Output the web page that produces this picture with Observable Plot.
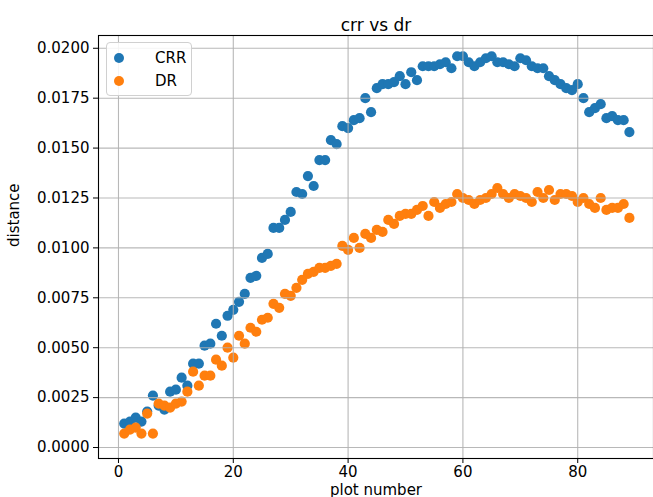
<!DOCTYPE html>
<html>
<head>
<meta charset="utf-8">
<script src="https://cdn.jsdelivr.net/npm/d3@7"></script>
<script src="https://cdn.jsdelivr.net/npm/@observablehq/plot@0.6"></script>
<style>
  html, body { margin: 0; padding: 0; background: white; }
  #wrap { position: relative; width: 653px; height: 497px; overflow: hidden; font-family: "DejaVu Sans", sans-serif; }
  #legend { position: absolute; left: 106px; top: 42px; width: 86px; height: 54px; box-sizing: border-box;
    border: 1px solid #d0d0d0; border-radius: 4px; background: rgba(255,255,255,0.85); }
  .row { position: absolute; left: 0; height: 20px; display: flex; align-items: center; font-size: 15px; color: #000; }
  .sw { position: absolute; left: 7px; width: 10px; height: 10px; border-radius: 50%; }
  .lb { position: absolute; left: 48px; white-space: nowrap; }
</style>
</head>
<body>
<div id="wrap">
  <div id="chart"></div>
  <div id="legend">
    <div class="row" style="top:5px"><span class="sw" style="background:#1f77b4"></span><span class="lb">CRR</span></div>
    <div class="row" style="top:28px"><span class="sw" style="background:#ff7f0e"></span><span class="lb">DR</span></div>
  </div>
</div>
<script>
const plotNumbers = [1,2,3,4,5,6,7,8,9,10,11,12,13,14,15,16,17,18,19,20,21,22,23,24,25,26,27,28,29,30,
  31,32,33,34,35,36,37,38,39,40,41,42,43,44,45,46,47,48,49,50,51,52,53,54,55,56,57,58,59,60,
  61,62,63,64,65,66,67,68,69,70,71,72,73,74,75,76,77,78,79,80,81,82,83,84,85,86,87,88,89];

const crr = [0.0012,0.0013,0.0015,0.0013,0.0018,0.0026,0.0021,0.0019,0.0028,0.0029,
  0.0035,0.0031,0.0042,0.0042,0.0051,0.0052,0.0062,0.0056,0.0066,0.0069,
  0.0073,0.0077,0.0085,0.0086,0.0095,0.0097,0.0110,0.0110,0.0114,0.0118,
  0.0128,0.0127,0.0136,0.0131,0.0144,0.0144,0.0154,0.0152,0.0161,0.0160,
  0.0164,0.0165,0.0175,0.0168,0.0180,0.0182,0.0182,0.0183,0.0186,0.0182,
  0.0188,0.0184,0.0191,0.0191,0.0191,0.0192,0.0193,0.0190,0.0196,0.0196,
  0.0193,0.0191,0.0193,0.0195,0.0196,0.0193,0.0193,0.0192,0.0191,0.0195,
  0.0194,0.0191,0.0190,0.0190,0.0186,0.0184,0.0182,0.0180,0.0179,0.0182,
  0.0175,0.0168,0.0170,0.0172,0.0165,0.0166,0.0164,0.0164,0.0158];

const dr = [0.0007,0.0009,0.0010,0.0007,0.0017,0.0007,0.0022,0.0021,0.0020,0.0022,
  0.0023,0.0028,0.0038,0.0031,0.0036,0.0036,0.0044,0.0041,0.0050,0.0045,
  0.0056,0.0052,0.0060,0.0058,0.0064,0.0065,0.0072,0.0070,0.0077,0.0076,
  0.0080,0.0084,0.0087,0.0088,0.0090,0.0090,0.0091,0.0092,0.0101,0.0099,
  0.0105,0.0100,0.0107,0.0105,0.0109,0.0108,0.0114,0.0112,0.0116,0.0117,
  0.0117,0.0119,0.0121,0.0116,0.0123,0.0120,0.0122,0.0123,0.0127,0.0125,
  0.0124,0.0122,0.0124,0.0125,0.0127,0.0130,0.0127,0.0125,0.0127,0.0126,
  0.0125,0.0123,0.0128,0.0125,0.0129,0.0124,0.0127,0.0127,0.0126,0.0123,
  0.0125,0.0122,0.0120,0.0125,0.0119,0.0120,0.0120,0.0122,0.0115];

const xTicks = [0, 20, 40, 60, 80];
const yTicks = [0, 0.0025, 0.005, 0.0075, 0.01, 0.0125, 0.015, 0.0175, 0.02];
const seriesNames = ["CRR", "DR"];
const seriesColors = ["#1f77b4", "#ff7f0e"];

const crrData = plotNumbers.map((n, i) => ({n, v: crr[i]}));
const drData = plotNumbers.map((n, i) => ({n, v: dr[i]}));

const chart = Plot.plot({
  width: 653,
  height: 497,
  marginLeft: 98,
  marginRight: 0,
  marginTop: 35,
  marginBottom: 39,
  style: {fontFamily: "DejaVu Sans, sans-serif", fontSize: "15px", color: "black", background: "white", overflow: "visible"},
  x: {domain: [-3.48, 93.2], label: null},
  y: {domain: [-0.00055, 0.02064], label: null},
  marks: [
    Plot.dot(crrData, {x: "n", y: "v", r: 5.1, fill: seriesColors[0], stroke: "none"}),
    Plot.dot(drData, {x: "n", y: "v", r: 5.1, fill: seriesColors[1], stroke: "none"}),
    Plot.gridX(xTicks, {stroke: "#b0b0b0", strokeOpacity: 0.9, strokeWidth: 1.1}),
    Plot.gridY(yTicks, {stroke: "#b0b0b0", strokeOpacity: 0.9, strokeWidth: 1.1}),
    Plot.frame({stroke: "black", strokeWidth: 1.1}),
    Plot.axisX({ticks: xTicks, tickSize: 5, tickPadding: 3, label: null, tickFormat: d3.format("d")}),
    Plot.axisY({ticks: yTicks, tickSize: 5, tickPadding: 4, label: null, tickFormat: d3.format(".4f")}),
    Plot.text(["crr vs dr"], {frameAnchor: "top", dy: -17, fontSize: 17, text: d => d}),
    Plot.text(["distance"], {frameAnchor: "left", dx: -84, rotate: -90, fontSize: 15, text: d => d}),
    Plot.text(["plot number"], {frameAnchor: "bottom", dy: 36, fontSize: 15, text: d => d})
  ]
});
document.getElementById("chart").appendChild(chart);
</script>
</body>
</html>
